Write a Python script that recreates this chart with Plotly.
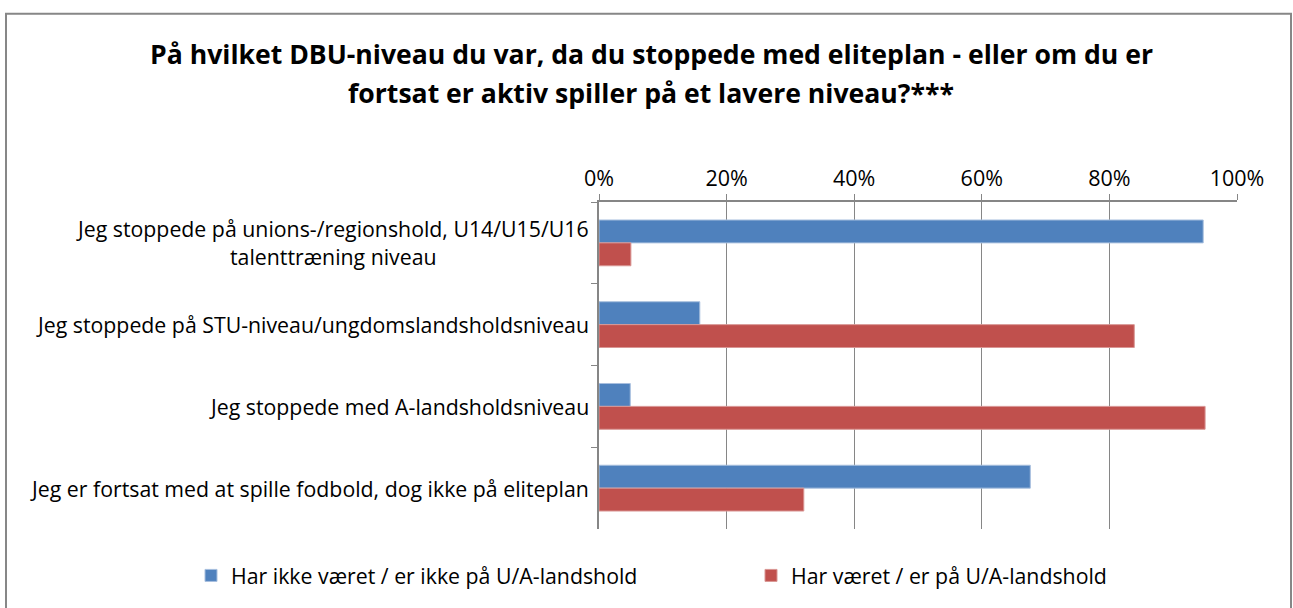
import plotly.graph_objects as go

categories = [
    "Jeg stoppede på unions-/regionshold, U14/U15/U16<br>talenttræning niveau",
    "Jeg stoppede på STU-niveau/ungdomslandsholdsniveau",
    "Jeg stoppede med A-landsholdsniveau",
    "Jeg er fortsat med at spille fodbold, dog ikke på eliteplan",
]
series_names = ["Har ikke været / er ikke på U/A-landshold", "Har været / er på U/A-landshold"]
blue_values = [0.947, 0.158, 0.049, 0.676]
red_values = [0.050, 0.839, 0.950, 0.321]
tick_vals = [0, 0.2, 0.4, 0.6, 0.8, 1.0]
tick_text = ["0%", "20%", "40%", "60%", "80%", "100%"]
title_lines = [
    "På hvilket DBU-niveau du var, da du stoppede med eliteplan - eller om du er",
    "fortsat er aktiv spiller på et lavere niveau?***",
]

FONT = "Open Sans"
W, H = 1293, 608
L, R, T, B = 599, 1237, 202, 532

def px_x(p):
    return (p - L) / (R - L)

def px_y(p):
    return (B - p) / (B - T)

fig = go.Figure()
fig.add_trace(go.Bar(y=categories, x=blue_values, orientation="h", name=series_names[0],
                     legend="legend",
                     marker=dict(color="#4F81BD", line=dict(color="#A7BFDE", width=1))))
fig.add_trace(go.Bar(y=categories, x=red_values, orientation="h", name=series_names[1],
                     legend="legend2",
                     marker=dict(color="#C0504D", line=dict(color="#D99694", width=1))))

annotations = []
for c in categories:
    annotations.append(dict(x=px_x(591), y=c, xref="paper", yref="y", text=c, showarrow=False,
                            xanchor="right", yanchor="middle", align="center",
                            font=dict(family=FONT, size=21.3, color="#000000")))
for line, yp in zip(title_lines, [53, 92]):
    annotations.append(dict(x=px_x(651), y=px_y(yp), xref="paper", yref="paper",
                            text="<b>" + line + "</b>", showarrow=False, xanchor="center",
                            yanchor="middle", font=dict(family=FONT, size=26.6, color="#000000")))

legend_common = dict(orientation="h", yanchor="middle", xanchor="left",
                     font=dict(family=FONT, size=21.3), bgcolor="rgba(0,0,0,0)")

fig.update_layout(
    width=W, height=H,
    margin=dict(l=L, r=W - R, t=T, b=H - B),
    paper_bgcolor="white", plot_bgcolor="white",
    barmode="group", bargap=0.44, bargroupgap=0,
    font=dict(family=FONT, size=21, color="#000000"),
    showlegend=True,
    legend=dict(x=px_x(191), y=px_y(579), **legend_common),
    legend2=dict(x=px_x(751), y=px_y(579), **legend_common),
    annotations=annotations,
    shapes=[dict(type="rect", xref="paper", yref="paper", x0=px_x(6), x1=px_x(1291),
                 y0=px_y(620), y1=px_y(12), line=dict(color="#878787", width=2))],
)
fig.update_xaxes(side="top", range=[0, 1.0], tickvals=tick_vals, ticktext=tick_text,
                 showgrid=True, gridcolor="#868686", gridwidth=1, showline=True,
                 linecolor="#868686", linewidth=1.5, ticks="outside", ticklen=6,
                 tickcolor="#868686", zeroline=False, tickfont=dict(family=FONT, size=21.5),
                 fixedrange=True)
fig.update_yaxes(autorange="reversed", showticklabels=False, showline=True, linecolor="#868686",
                 linewidth=1.5, ticks="outside", tickson="boundaries", ticklen=6,
                 tickcolor="#868686", showgrid=False, fixedrange=True)

fig.write_html("out.html", post_script="document.body.style.margin='0px';",
               config={"displayModeBar": False})
